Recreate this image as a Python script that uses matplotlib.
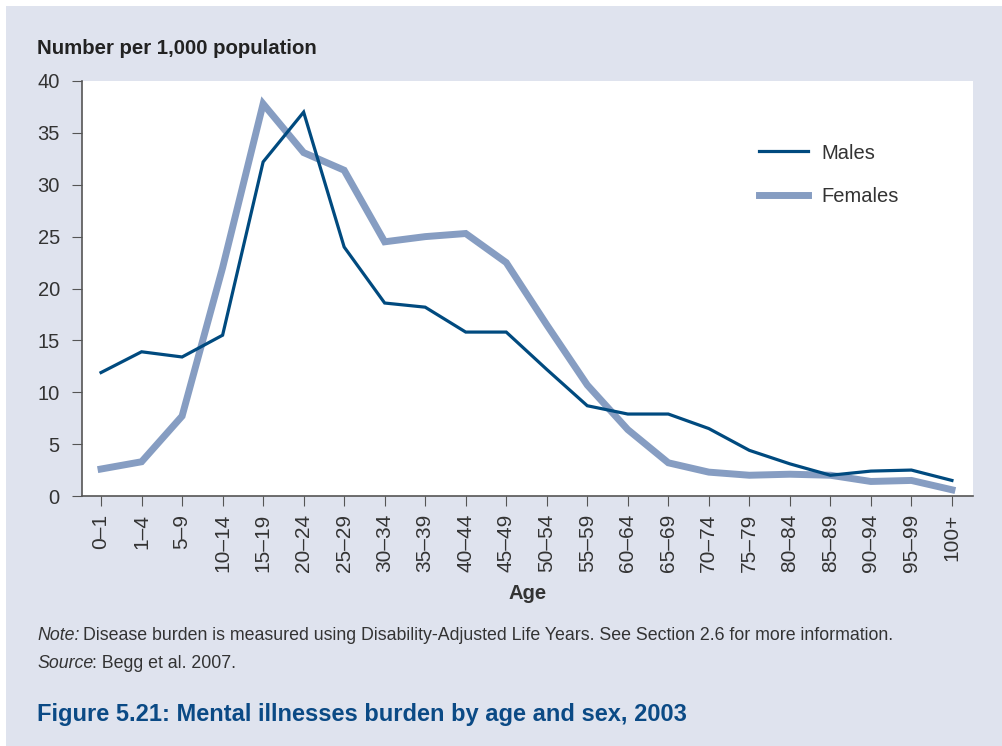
import matplotlib.pyplot as plt
from matplotlib.patches import Rectangle

plt.rcParams['font.family'] = ['Liberation Sans', 'DejaVu Sans']

ages = ['0–1', '1–4', '5–9', '10–14', '15–19', '20–24', '25–29', '30–34',
        '35–39', '40–44', '45–49', '50–54', '55–59', '60–64', '65–69',
        '70–74', '75–79', '80–84', '85–89', '90–94', '95–99', '100+']
males = [11.9, 13.9, 13.4, 15.5, 32.2, 37.0, 24.0, 18.6, 18.2, 15.8, 15.8,
         12.2, 8.7, 7.9, 7.9, 6.5, 4.4, 3.1, 2.0, 2.4, 2.5, 1.5]
females = [2.6, 3.3, 7.7, 22.0, 37.8, 33.1, 31.4, 24.5, 25.0, 25.3, 22.5,
           16.5, 10.7, 6.4, 3.2, 2.3, 2.0, 2.1, 2.0, 1.4, 1.5, 0.6]

bg = '#dfe3ee'
male_col = '#004a7f'
female_col = '#869dc2'
text_col = '#333333'

fig = plt.figure(figsize=(10.02, 7.46), dpi=100)
fig.patch.set_facecolor('white')
fig.patches.append(Rectangle((6 / 1002, 0), 1, 1 - 6 / 746, transform=fig.transFigure,
                             facecolor=bg, edgecolor='none', zorder=-10))

ax = fig.add_axes([82 / 1002, 1 - 496 / 746, (973 - 82) / 1002, (496 - 81) / 746])
ax.set_facecolor('white')
x = list(range(len(ages)))
ax.plot(x, females, color=female_col, lw=5, label='Females', solid_joinstyle='miter')
ax.plot(x, males, color=male_col, lw=2.3, label='Males', solid_joinstyle='miter')

ax.set_xlim(-0.47, 21.52)
ax.set_ylim(0, 40)
ax.set_yticks(range(0, 41, 5))
ax.set_xticks(x)
ax.set_xticklabels(ages, rotation=90, fontsize=15, color=text_col)
ax.tick_params(axis='y', labelsize=14.5, labelcolor=text_col, direction='out',
               length=7, color='#555555', pad=9)
ax.tick_params(axis='x', direction='out', length=7, color='#555555', pad=6)
for s in ['top', 'right']:
    ax.spines[s].set_visible(False)
for s in ['left', 'bottom']:
    ax.spines[s].set_color('#555555')
    ax.spines[s].set_linewidth(1.2)

h, l = ax.get_legend_handles_labels()
ax.legend(h[::-1], l[::-1], loc='upper left', bbox_to_anchor=(0.74, 0.893),
          frameon=False, fontsize=14.5, handlelength=2.4, labelspacing=1.2,
          handletextpad=0.65, labelcolor=text_col)

ax.set_xlabel('Age', fontsize=14.5, fontweight='bold', color=text_col, labelpad=8)
fig.text(37 / 1002, 1 - 48 / 746, 'Number per 1,000 population', fontsize=14.7,
         fontweight='bold', color='#222222', va='center')

r = fig.canvas.get_renderer()


def pair(y, first, rest, gap):
    # italic lead word followed by plain text
    t = fig.text(37 / 1002, 1 - y / 746, first, fontsize=12.8, style='italic',
                 color=text_col, va='center')
    w = t.get_window_extent(r).x1
    fig.text((w + gap) / 1002, 1 - y / 746, rest, fontsize=12.8,
             color=text_col, va='center')


pair(635, 'Note:', 'Disease burden is measured using Disability-Adjusted Life Years. '
     'See Section 2.6 for more information.', 4)
pair(664, 'Source', ': Begg et al. 2007.', -1)

fig.text(37 / 1002, 1 - 715 / 746, 'Figure 5.21: Mental illnesses burden by age and sex, 2003',
         fontsize=17, fontweight='bold', color='#0b4a85', va='center')

plt.savefig('out.png', dpi=100)
